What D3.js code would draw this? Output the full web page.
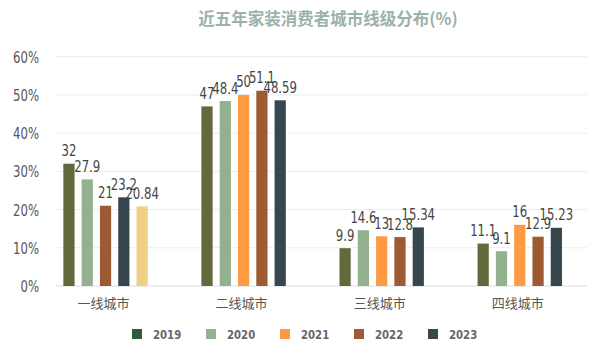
<!DOCTYPE html>
<html>
<head>
<meta charset="utf-8">
<script src="https://cdn.jsdelivr.net/npm/d3@7"></script>
<style>
  body { margin: 0; background: #fff; }
  svg text { font-family: "DejaVu Sans", sans-serif; }
</style>
</head>
<body>
<div id="chart"></div>
<script>
// data
var cities = ["一线城市", "二线城市", "三线城市", "四线城市"];
var years = ["2019", "2020", "2021", "2022", "2023"];
var v2019 = [32, 47, 9.9, 11.1];
var v2020 = [27.9, 48.4, 14.6, 9.1];
var v2021 = [21, 50, 13, 16];
var v2022 = [23.2, 51.1, 12.8, 12.9];
var v2023 = [20.84, 48.59, 15.34, 15.23];
var yTicks = [0, 10, 20, 30, 40, 50, 60];

var series = [v2019, v2020, v2021, v2022, v2023];
var barColors = ["#626a3d", "#93b08f", "#fd9b44", "#9e5a32", "#37474f"];
var legendColors = ["#2f5a3c", "#93b396", "#fd9b44", "#9e5a32", "#37474f"];
// first group is coloured differently in the original chart
var firstGroupColors = ["#626a3d", "#93b08f", "#9e5a32", "#37474f", "#f0cf88"];

var narrow = 0.78; // squeeze digits to look like a condensed face

var svg = d3.select("#chart")
            .append("svg")
            .attr("width", 600)
            .attr("height", 353);

// title
svg.append("text")
   .attr("x", 328)
   .attr("y", 25)
   .style("text-anchor", "middle")
   .style("font-family", "'Noto Sans CJK SC', sans-serif")
   .style("font-weight", "bold")
   .style("font-size", "16.5px")
   .attr("fill", "#9bb1a9")
   .text("近五年家装消费者城市线级分布(%)");

var y = d3.scaleLinear()
          .domain([0, 60])
          .range([286, 56.7]);

var x0 = d3.scaleBand()
           .domain(cities)
           .range([36.5, 588.8]);

var x1 = d3.scaleBand()
           .domain(years)
           .range([0, 84.4])
           .paddingInner(0.386);

// grid lines
svg.append("g")
  .selectAll("line")
  .data(yTicks)
  .enter()
  .append("line")
    .attr("x1", 56)
    .attr("x2", 587)
    .attr("y1", function(d) { return y(d); })
    .attr("y2", function(d) { return y(d); })
    .attr("stroke", function(d) { return d == 0 ? "#dcdcdc" : "#ececec"; })
    .attr("stroke-width", 1);

// y labels
svg.append("g")
  .selectAll("text")
  .data(yTicks)
  .enter()
  .append("text")
    .attr("transform", function(d) { return "translate(39," + (y(d) + 6) + ") scale(" + narrow + ",1)"; })
    .style("text-anchor", "end")
    .style("font-size", "15px")
    .attr("fill", "#555")
    .text(function(d) { return d + "%"; });

// bars
var groups = svg.append("g")
  .selectAll("g")
  .data(cities)
  .enter()
  .append("g")
    .attr("transform", function(d) { return "translate(" + (x0(d) + x0.bandwidth() / 2 - 42.2) + ",0)"; });

groups.selectAll("rect")
  .data(function(c, ci) {
    return years.map(function(yr, i) {
      return { year: yr, value: series[i][ci], color: ci == 0 ? firstGroupColors[i] : barColors[i] };
    });
  })
  .enter()
  .append("rect")
    .attr("x", function(d) { return x1(d.year); })
    .attr("y", function(d) { return y(d.value); })
    .attr("width", x1.bandwidth())
    .attr("height", function(d) { return y(0) - y(d.value); })
    .attr("fill", function(d) { return d.color; });

groups.selectAll("text")
  .data(function(c, ci) {
    return years.map(function(yr, i) { return { year: yr, value: series[i][ci] }; });
  })
  .enter()
  .append("text")
    .attr("transform", function(d) {
      return "translate(" + (x1(d.year) + x1.bandwidth() / 2) + "," + (y(d.value) - 7.5) + ") scale(" + narrow + ",1)";
    })
    .style("text-anchor", "middle")
    .style("font-size", "15px")
    .attr("fill", "#444")
    .text(function(d) { return d.value; });

// category labels
svg.append("g")
  .selectAll("text")
  .data(cities)
  .enter()
  .append("text")
    .attr("x", function(d) { return x0(d) + x0.bandwidth() / 2 - 2; })
    .attr("y", 308)
    .style("text-anchor", "middle")
    .style("font-family", "'Noto Sans CJK SC', sans-serif")
    .style("font-size", "13px")
    .attr("fill", "#555")
    .text(function(d) { return d; });

// legend
var legend = svg.append("g")
  .selectAll("g")
  .data(years)
  .enter()
  .append("g")
    .attr("transform", function(d, i) { return "translate(" + (132 + i * 74) + ",329)"; });

legend.append("rect")
  .attr("width", 10)
  .attr("height", 10)
  .attr("fill", function(d, i) { return legendColors[i]; });

legend.append("text")
  .attr("transform", "translate(21,10) scale(" + narrow + ",1)")
  .style("font-size", "13px")
  .style("font-weight", "bold")
  .attr("fill", "#666")
  .text(function(d) { return d; });
</script>
</body>
</html>
